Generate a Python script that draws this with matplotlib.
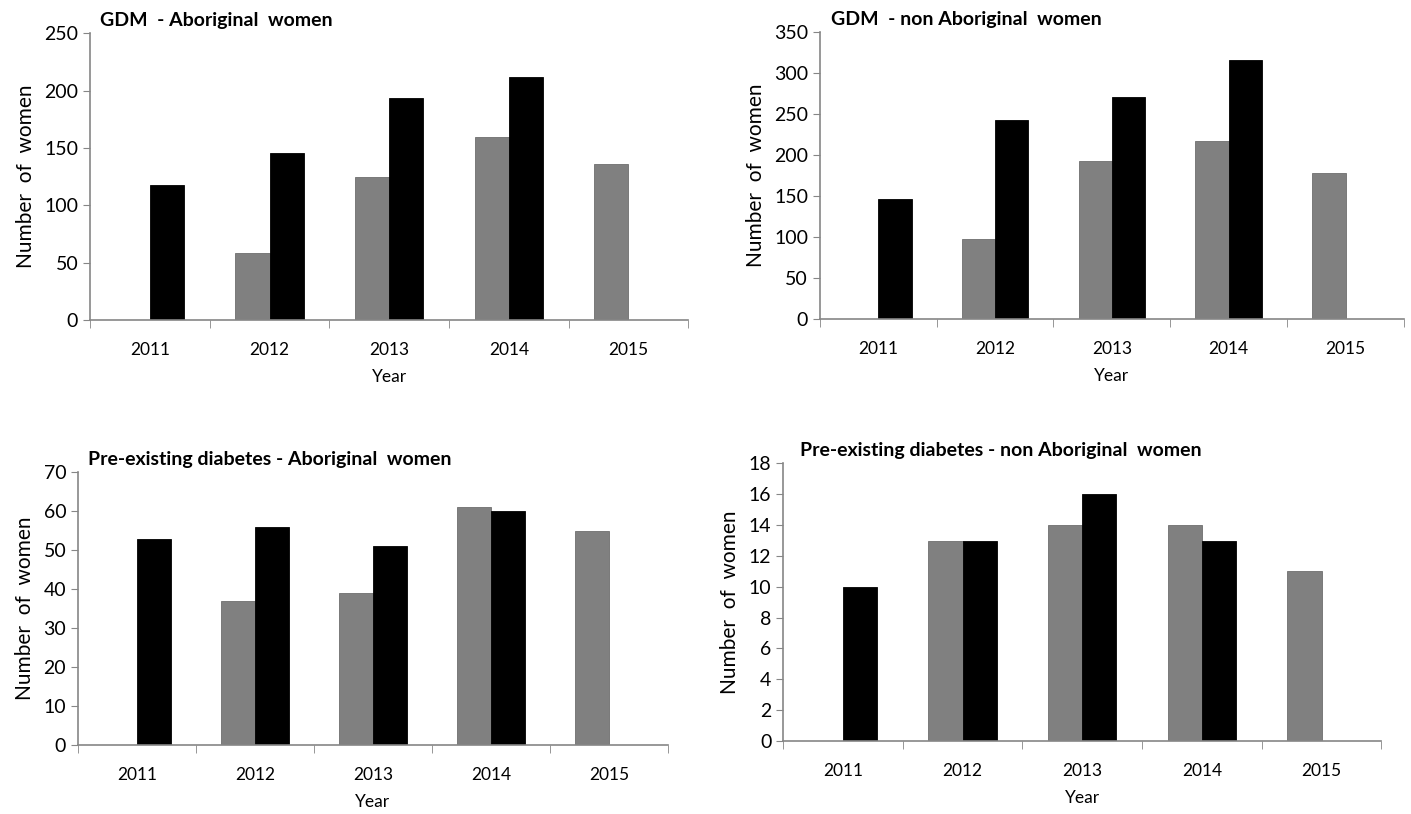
import matplotlib
matplotlib.use('Agg')
from matplotlib import pyplot as plt
import numpy as np

plt.rcParams['font.family'] = ['Lato', 'DejaVu Sans']

years = ['2011', '2012', '2013', '2014', '2015']

# grey = first series, black = second series (0 = no bar)
gdm_abo_grey = [0, 58, 125, 160, 136]
gdm_abo_black = [118, 146, 194, 212, 0]
gdm_non_grey = [0, 97, 192, 217, 178]
gdm_non_black = [146, 243, 271, 316, 0]
pre_abo_grey = [0, 37, 39, 61, 55]
pre_abo_black = [53, 56, 51, 60, 0]
pre_non_grey = [0, 13, 14, 14, 11]
pre_non_black = [10, 13, 16, 13, 0]

titles = ['GDM  - Aboriginal  women',
          'GDM  - non Aboriginal  women',
          'Pre-existing diabetes - Aboriginal  women',
          'Pre-existing diabetes - non Aboriginal  women']
ymax = [250, 350, 70, 18]
ystep = [50, 50, 10, 2]

series = [(gdm_abo_grey, gdm_abo_black), (gdm_non_grey, gdm_non_black),
          (pre_abo_grey, pre_abo_black), (pre_non_grey, pre_non_black)]

# axes rectangles [left, bottom, width, height] in figure fraction
rects = [[0.0638, 0.607, 0.424, 0.352],
         [0.581, 0.608, 0.414, 0.353],
         [0.0553, 0.0848, 0.418, 0.335],
         [0.555, 0.0897, 0.424, 0.341]]
title_x = [0.017, 0.02, 0.017, 0.028]

fig = plt.figure(figsize=(14.11, 8.14), dpi=100)

x = np.arange(len(years))
w = 0.285
axis_col = '#868686'

for i in range(4):
    ax = fig.add_axes(rects[i])
    grey, black = series[i]
    ax.bar(x - w / 2, grey, w, color='#808080', edgecolor='#6e6e6e', linewidth=0.6)
    ax.bar(x + w / 2, black, w, color='#000000', edgecolor='#000000', linewidth=0.6)

    ax.set_xlim(-0.5, len(years) - 0.5)
    ax.set_ylim(0, ymax[i])
    ax.set_yticks(np.arange(0, ymax[i] + 1, ystep[i]))
    ax.set_xticks(x)
    ax.set_xticklabels(years)
    ax.set_xticks(np.arange(-0.5, len(years), 1), minor=True)
    ax.tick_params(axis='x', which='major', length=0, pad=16, labelsize=12.5)
    ax.tick_params(axis='x', which='minor', length=6, direction='out', color=axis_col)
    ax.tick_params(axis='y', length=5, direction='out', color=axis_col, labelsize=14)

    for s in ['top', 'right']:
        ax.spines[s].set_visible(False)
    for s in ['left', 'bottom']:
        ax.spines[s].set_color(axis_col)
        ax.spines[s].set_linewidth(1.2)

    ax.set_xlabel('Year', fontsize=12.5, labelpad=8)
    ax.set_ylabel('Number  of  women', fontsize=15, labelpad=6)
    ax.set_title(titles[i], fontsize=14, fontweight='bold', loc='left', x=title_x[i], pad=5)

fig.savefig('out.png', dpi=100)
plt.close()
